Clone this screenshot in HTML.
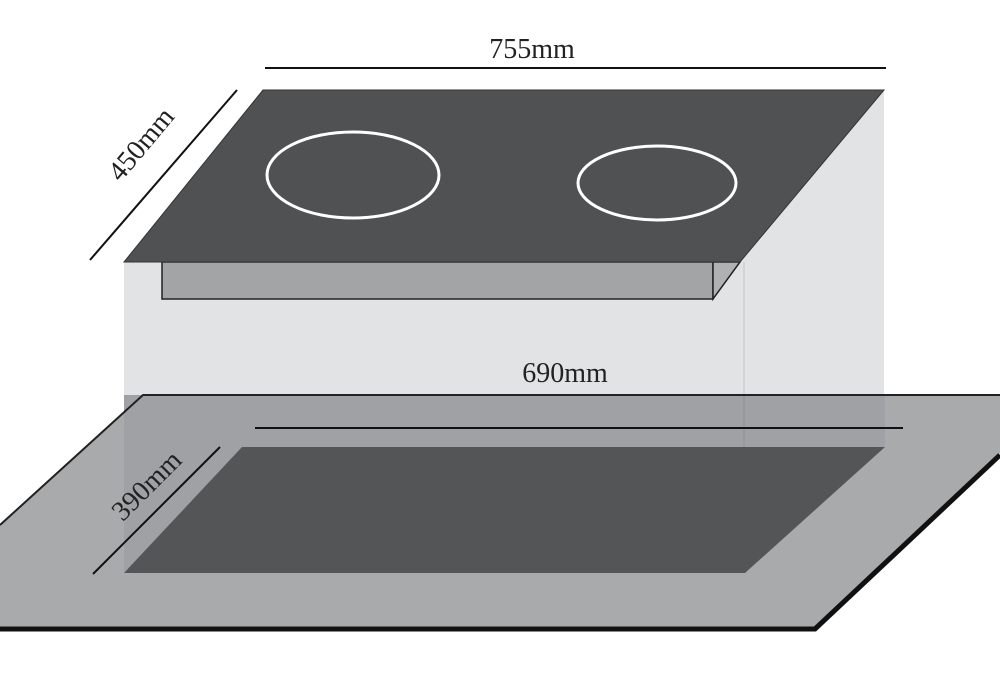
<!DOCTYPE html>
<html><head><style>html,body{margin:0;padding:0;background:#fff}svg{display:block}</style></head><body>
<svg width="1000" height="697" viewBox="0 0 1000 697" xmlns="http://www.w3.org/2000/svg">
<rect width="1000" height="697" fill="#fff"/>
<!-- front and side panels -->
<rect x="124" y="262" width="620" height="133" fill="#e2e3e4"/>
<polygon points="740,262 884,90 884,395 744,395" fill="#e2e3e4"/>
<line x1="744" y1="262" x2="744" y2="447" stroke="#c4c5c7" stroke-width="1"/>
<!-- counter -->
<polygon points="143,395 1000,395 1000,453 815,630 0,630 0,525" fill="#a9aaac"/>
<polygon points="124,395 885,395 885,447 744,447 744,573 124,573" fill="#9fa1a4"/>
<line x1="744" y1="395" x2="744" y2="447" stroke="#8f9194" stroke-width="1"/>
<polyline points="0,525 143,395 1000,395" fill="none" stroke="#222" stroke-width="2"/>
<polyline points="0,629 815,629 1000,455" fill="none" stroke="#111" stroke-width="5"/>
<!-- cutout -->
<polygon points="242,447 885,447 745,573 124,573" fill="#545557"/>
<!-- slot -->
<rect x="162" y="262" width="551" height="37" fill="#a3a4a6" stroke="#222" stroke-width="1.5"/>
<polygon points="713,262 740,262 713,299" fill="#b0b1b3" stroke="#222" stroke-width="1.5"/>
<!-- top glass -->
<polygon points="263,90 884,90 740,262 124,262" fill="#505153" stroke="#333" stroke-width="1"/>
<ellipse cx="353" cy="175" rx="86" ry="43" fill="none" stroke="#fff" stroke-width="3"/>
<ellipse cx="657" cy="183" rx="79" ry="37" fill="none" stroke="#fff" stroke-width="3"/>
<!-- dimension lines -->
<line x1="265" y1="68" x2="886" y2="68" stroke="#111" stroke-width="2"/>
<line x1="90" y1="260" x2="237" y2="90" stroke="#111" stroke-width="2"/>
<line x1="255" y1="428" x2="903" y2="428" stroke="#111" stroke-width="2"/>
<line x1="93" y1="574" x2="220" y2="447" stroke="#111" stroke-width="2"/>
<g font-family="Liberation Serif, serif" font-size="28" fill="#222">
<text x="532" y="58" text-anchor="middle">755mm</text>
<text x="565" y="382" text-anchor="middle">690mm</text>
<text transform="translate(148,150) rotate(-50)" text-anchor="middle">450mm</text>
<text transform="translate(153,492) rotate(-45)" text-anchor="middle">390mm</text>
</g>
</svg>
</body></html>
